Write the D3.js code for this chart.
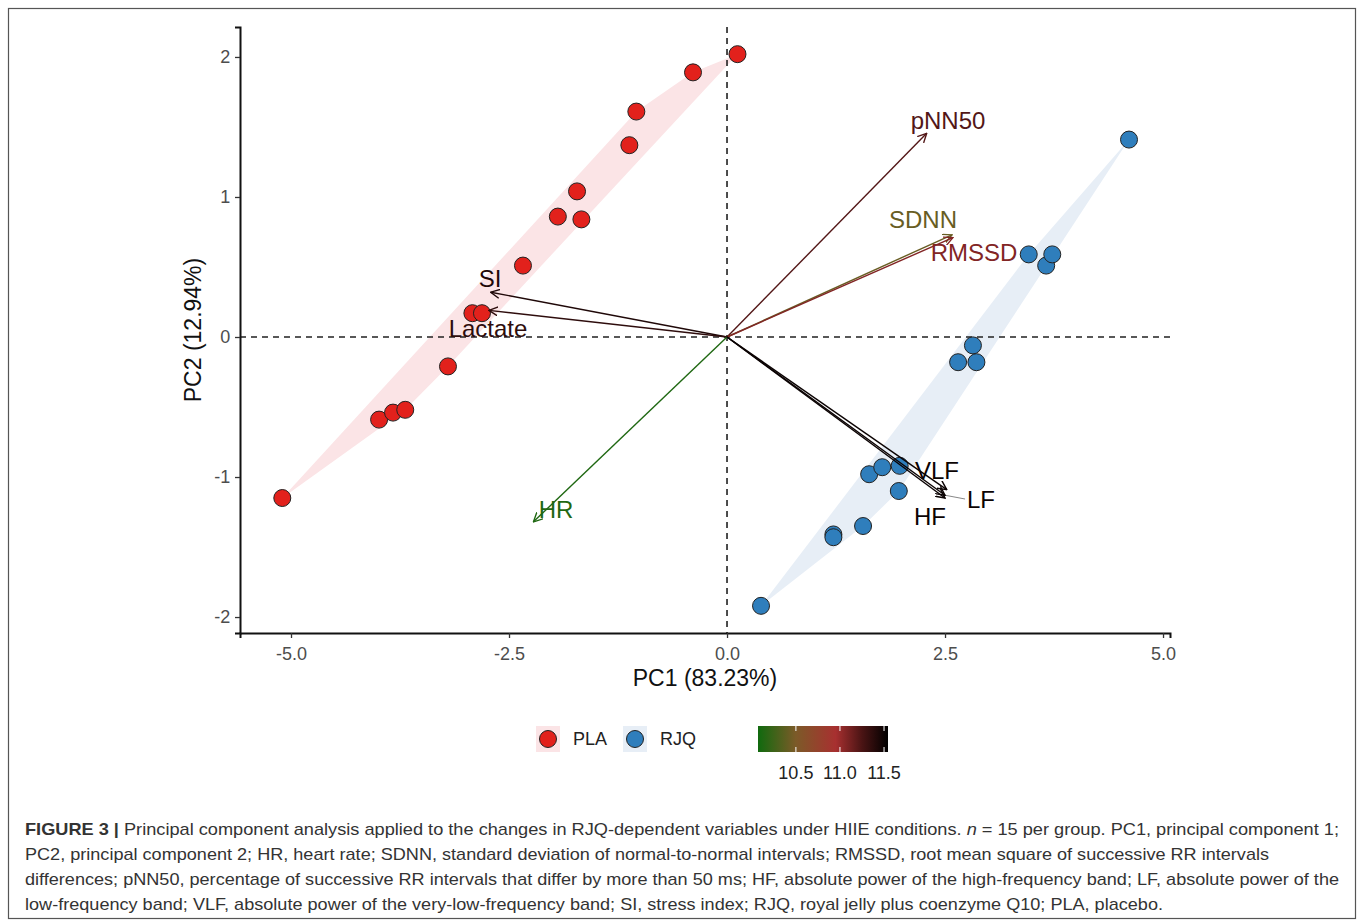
<!DOCTYPE html>
<html>
<head>
<meta charset="utf-8">
<script src="https://cdn.jsdelivr.net/npm/d3@7"></script>
<style>
  body { margin: 0; background: #fff; }
  svg text { font-family: "Liberation Sans", Arial, Helvetica, sans-serif; }
</style>
</head>
<body>
<div id="chart"></div>
<script>
// individuals (PC1, PC2)
const plaPoints = [
  [0.12, 2.02], [-0.39, 1.89], [-1.04, 1.61], [-1.12, 1.37], [-1.72, 1.04],
  [-1.94, 0.86], [-1.67, 0.84], [-2.34, 0.51], [-2.92, 0.17], [-2.81, 0.17],
  [-3.20, -0.21], [-3.99, -0.59], [-3.83, -0.54], [-3.69, -0.52], [-5.10, -1.15]
]
const rjqPoints = [
  [4.61, 1.41], [3.46, 0.59], [3.66, 0.51], [3.73, 0.59], [2.82, -0.06],
  [2.65, -0.18], [2.86, -0.18], [1.63, -0.98], [1.78, -0.93], [1.98, -0.92],
  [1.97, -1.10], [1.56, -1.35], [1.22, -1.41], [1.22, -1.43], [0.39, -1.92]
]

// variables (loadings scaled) and contribution
const varNames = ["pNN50", "SDNN", "RMSSD", "SI", "Lactate", "HR", "VLF", "LF", "HF"]
const varX = [2.29, 2.58, 2.59, -2.71, -2.73, -2.22, 2.52, 2.50, 2.50]
const varY = [1.455, 0.73, 0.71, 0.32, 0.19, -1.32, -1.09, -1.13, -1.15]
const varContrib = [11.22, 10.42, 11.07, 11.42, 11.36, 10.13, 11.5, 11.5, 11.5]
// repelled label positions, data units
const labelX = [2.534, 2.248, 2.833, -2.718, -2.741, -1.961, 2.408, 2.913, 2.328]
const labelY = [1.543, 0.836, 0.600, 0.421, 0.064, -1.229, -0.950, -1.157, -1.279]

const xTicks = [-5, -2.5, 0, 2.5, 5]
const yTicks = [-2, -1, 0, 1, 2]
const contribTicks = [10.5, 11.0, 11.5]

const caption = [
  "Principal component analysis applied to the changes in RJQ-dependent variables under HIIE conditions. ",
  "PC2, principal component 2; HR, heart rate; SDNN, standard deviation of normal-to-normal intervals; RMSSD, root mean square of successive RR intervals",
  "differences; pNN50, percentage of successive RR intervals that differ by more than 50 ms; HF, absolute power of the high-frequency band; LF, absolute power of the",
  "low-frequency band; VLF, absolute power of the very-low-frequency band; SI, stress index; RJQ, royal jelly plus coenzyme Q10; PLA, placebo."
]

const W = 1358, H = 922
const svg = d3.select("#chart").append("svg")
  .attr("width", W).attr("height", H)

// frame
svg.append("rect")
  .attr("x", 8.5).attr("y", 8.5).attr("width", 1347).attr("height", 910)
  .attr("fill", "none").attr("stroke", "#555").attr("stroke-width", 1.2)

const x = d3.scaleLinear().domain([-5.585, 5.08]).range([240, 1170])
const y = d3.scaleLinear().domain([-2.114, 2.214]).range([633, 27])

const color = d3.scaleLinear()
  .domain([10.07, 10.5, 10.95, 11.25, 11.545])
  .range(["#106a0e", "#7c5a28", "#a83030", "#4a1414", "#000000"])

// hulls
const groups = [
  {pts: plaPoints, fill: "#fbe4e6", dot: "#e2211c"},
  {pts: rjqPoints, fill: "#e7eef6", dot: "#2f7ebc"}
]
groups.forEach(g => {
  const hull = d3.polygonHull(g.pts.map(p => [x(p[0]), y(p[1])]))
  svg.append("path")
    .attr("d", "M" + hull.join("L") + "Z")
    .attr("fill", g.fill)
})

// reference lines
svg.append("line")
  .attr("x1", x(0)).attr("x2", x(0)).attr("y1", 27).attr("y2", 633)
  .attr("stroke", "#222").attr("stroke-width", 1.6).attr("stroke-dasharray", "6,5")
svg.append("line")
  .attr("x1", 240).attr("x2", 1170).attr("y1", y(0)).attr("y2", y(0))
  .attr("stroke", "#222").attr("stroke-width", 1.6).attr("stroke-dasharray", "6,5")

// points
groups.forEach(g => {
  svg.append("g").selectAll("circle")
    .data(g.pts)
    .join("circle")
    .attr("cx", d => x(d[0]))
    .attr("cy", d => y(d[1]))
    .attr("r", 8.5)
    .attr("fill", g.dot)
    .attr("stroke", "#222")
    .attr("stroke-width", 1)
})

// arrows
const defs = svg.append("defs")
const vars = varNames.map((n, i) => ({name: n, x: varX[i], y: varY[i], c: varContrib[i], lx: labelX[i], ly: labelY[i]}))
vars.forEach((v, i) => {
  defs.append("marker")
    .attr("id", "arr" + i)
    .attr("viewBox", "0 0 10 10")
    .attr("refX", 9).attr("refY", 5)
    .attr("markerWidth", 10).attr("markerHeight", 10)
    .attr("markerUnits", "userSpaceOnUse")
    .attr("orient", "auto")
    .append("path")
    .attr("d", "M0,0.5L9,5L0,9.5")
    .attr("fill", "none")
    .attr("stroke", color(v.c))
    .attr("stroke-width", 1.4)
})

// LF label segment
const lf = vars.find(v => v.name == "LF")
svg.append("line")
  .attr("x1", x(lf.x)).attr("y1", y(lf.y))
  .attr("x2", x(lf.lx) - 16).attr("y2", y(lf.ly))
  .attr("stroke", "#888").attr("stroke-width", 1)

svg.append("g").selectAll("line")
  .data(vars)
  .join("line")
  .attr("x1", x(0)).attr("y1", y(0))
  .attr("x2", d => x(d.x)).attr("y2", d => y(d.y))
  .attr("stroke", d => color(d.c))
  .attr("stroke-width", 1.4)
  .attr("marker-end", (d, i) => `url(#arr${i})`)

svg.append("g").selectAll("text")
  .data(vars)
  .join("text")
  .attr("x", d => x(d.lx)).attr("y", d => y(d.ly))
  .attr("text-anchor", "middle")
  .attr("dominant-baseline", "central")
  .attr("font-size", 24)
  .attr("fill", d => color(d.c))
  .text(d => d.name)

// axes
const xAxis = svg.append("g")
  .attr("transform", "translate(0,633)")
  .call(d3.axisBottom(x).tickValues(xTicks).tickFormat(d => d.toFixed(1)).tickSizeOuter(0).tickSize(5))
const yAxis = svg.append("g")
  .attr("transform", "translate(240,0)")
  .call(d3.axisLeft(y).tickValues(yTicks).tickFormat(d => String(d)).tickSizeOuter(0).tickSize(5))
;[xAxis, yAxis].forEach(a => {
  a.select(".domain").attr("stroke", "#111").attr("stroke-width", 2)
  a.selectAll(".tick line").attr("stroke", "#333").attr("stroke-width", 1.3)
  a.selectAll(".tick text").attr("fill", "#4d4d4d").attr("font-size", 18)
    .style("font-family", '"Liberation Sans", Arial, sans-serif')
})
xAxis.selectAll(".tick text").attr("dy", "1.05em")
yAxis.selectAll(".tick text").attr("dx", "-0.1em")

svg.append("text")
  .attr("x", 705).attr("y", 686)
  .attr("text-anchor", "middle")
  .attr("font-size", 23).attr("fill", "#111")
  .text("PC1 (83.23%)")
svg.append("text")
  .attr("transform", "translate(201,330) rotate(-90)")
  .attr("text-anchor", "middle")
  .attr("font-size", 23).attr("fill", "#111")
  .text("PC2 (12.94%)")

// legend: groups
const legendItems = [
  {label: "PLA", cx: 548, fill: "#fbe4e6", dot: "#e2211c"},
  {label: "RJQ", cx: 635, fill: "#e7eef6", dot: "#2f7ebc"}
]
legendItems.forEach(l => {
  svg.append("rect").attr("x", l.cx - 12).attr("y", 726).attr("width", 24).attr("height", 26).attr("fill", l.fill)
  svg.append("circle").attr("cx", l.cx).attr("cy", 739).attr("r", 8.5)
    .attr("fill", l.dot).attr("stroke", "#222").attr("stroke-width", 1)
  svg.append("text").attr("x", l.cx + 25).attr("y", 739)
    .attr("dominant-baseline", "central").attr("font-size", 18).attr("fill", "#222")
    .text(l.label)
})

// legend: colour bar
const cb = d3.scaleLinear().domain([10.07, 11.545]).range([758, 888])
const grad = defs.append("linearGradient").attr("id", "cbar")
color.domain().forEach(v => {
  grad.append("stop")
    .attr("offset", (cb(v) - 758) / 130)
    .attr("stop-color", color(v))
})
svg.append("rect")
  .attr("x", 758).attr("y", 726).attr("width", 130).attr("height", 26)
  .attr("fill", "url(#cbar)")
svg.append("g").selectAll("line.t1")
  .data(contribTicks).join("line")
  .attr("x1", d => cb(d)).attr("x2", d => cb(d)).attr("y1", 726).attr("y2", 731)
  .attr("stroke", "#fff").attr("stroke-width", 1)
svg.append("g").selectAll("line.t2")
  .data(contribTicks).join("line")
  .attr("x1", d => cb(d)).attr("x2", d => cb(d)).attr("y1", 747).attr("y2", 752)
  .attr("stroke", "#fff").attr("stroke-width", 1)
svg.append("g").selectAll("text")
  .data(contribTicks).join("text")
  .attr("x", d => cb(d)).attr("y", 773)
  .attr("text-anchor", "middle").attr("dominant-baseline", "central")
  .attr("font-size", 18).attr("fill", "#222")
  .text(d => d.toFixed(1))

// caption
const capLeft = 25
const capWidths = [1314, 1244, 1314, 1138]
const capG = svg.append("g").attr("font-size", 17).attr("fill", "#333")
const t0 = capG.append("text").attr("x", capLeft).attr("y", 835)
  .attr("textLength", capWidths[0]).attr("lengthAdjust", "spacingAndGlyphs")
t0.append("tspan").attr("font-weight", "bold").text("FIGURE 3 | ")
t0.append("tspan").text(caption[0])
t0.append("tspan").attr("font-style", "italic").text("n")
t0.append("tspan").text(" = 15 per group. PC1, principal component 1;")
caption.slice(1).forEach((line, i) => {
  capG.append("text").attr("x", capLeft).attr("y", 860 + i * 25)
    .attr("textLength", capWidths[i + 1]).attr("lengthAdjust", "spacingAndGlyphs")
    .text(line)
})
</script>
</body>
</html>
